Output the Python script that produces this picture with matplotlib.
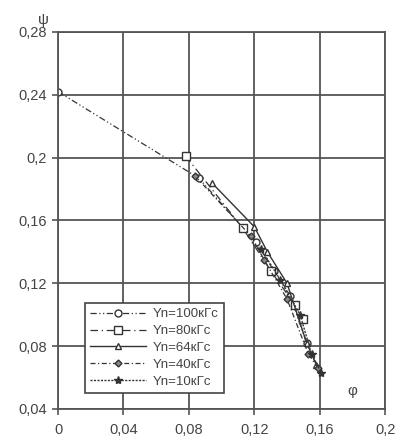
import matplotlib.pyplot as plt

plt.rcParams['font.family'] = ['Liberation Sans', 'DejaVu Sans']

# data
phi_100 = [0.0, 0.086, 0.121, 0.132, 0.142, 0.152]
psi_100 = [0.242, 0.187, 0.146, 0.128, 0.112, 0.082]

phi_80 = [0.078, 0.113, 0.130, 0.145, 0.150]
psi_80 = [0.201, 0.155, 0.128, 0.106, 0.097]

phi_64 = [0.094, 0.120, 0.128, 0.140, 0.152, 0.158]
psi_64 = [0.184, 0.156, 0.140, 0.120, 0.082, 0.068]

phi_40 = [0.084, 0.118, 0.126, 0.140, 0.153, 0.159]
psi_40 = [0.188, 0.150, 0.135, 0.110, 0.075, 0.066]

phi_10 = [0.124, 0.136, 0.148, 0.155, 0.161]
psi_10 = [0.142, 0.122, 0.100, 0.075, 0.063]

xticks = [0, 0.04, 0.08, 0.12, 0.16, 0.2]
xlabels = ['0', '0,04', '0,08', '0,12', '0,16', '0,2']
yticks = [0.04, 0.08, 0.12, 0.16, 0.2, 0.24, 0.28]
ylabels = ['0,04', '0,08', '0,12', '0,16', '0,2', '0,24', '0,28']

fig = plt.figure(figsize=(3.95, 4.44), dpi=100)
ax = fig.add_axes([0.147, 0.079, 0.828, 0.849])

lc = '#333333'
ax.plot(phi_100, psi_100, color=lc, lw=0.9, dashes=(5, 2, 1, 2, 1, 2),
        marker='o', ms=5, mfc='white', mec=lc, label='Yn=100кГс')
ax.plot(phi_80, psi_80, color=lc, lw=0.9, dashes=(6, 3, 1, 3),
        marker='s', ms=6, mfc='white', mec=lc, label='Yn=80кГс')
ax.plot(phi_64, psi_64, color=lc, lw=1.0, ls='-',
        marker='^', ms=5, mfc='white', mec=lc, label='Yn=64кГс')
ax.plot(phi_40, psi_40, color=lc, lw=0.9, dashes=(4, 2, 1, 2),
        marker='D', ms=3.5, mfc='#888888', mec=lc, label='Yn=40кГс')
ax.plot(phi_10, psi_10, color=lc, lw=1.0, dashes=(1.5, 1),
        marker='*', ms=6, mfc=lc, mec=lc, label='Yn=10кГс')

ax.set_xlim(0, 0.2)
ax.set_ylim(0.04, 0.28)
ax.set_xticks(xticks)
ax.set_xticklabels(xlabels)
ax.set_yticks(yticks)
ax.set_yticklabels(ylabels)
ax.grid(True, color='#555555', lw=1.3)
for s in ax.spines.values():
    s.set_color('#555555')
    s.set_linewidth(1.3)
ax.tick_params(colors='#555555', labelcolor='#444444', labelsize=10.5,
               length=4, width=1.2, pad=6)
ax.tick_params(axis='y', pad=4)

ax.text(-0.009, 0.283, 'ψ', fontsize=11, color='#444444', ha='center', va='bottom')
ax.text(0.18, 0.047, 'φ', fontsize=11, color='#444444', ha='center', va='bottom')

leg = ax.legend(loc='lower left', bbox_to_anchor=(0.083, 0.042), fontsize=9.5,
                frameon=True, fancybox=False, framealpha=1, edgecolor='#444444',
                handlelength=4.2, labelspacing=0.35, borderpad=0.4,
                handletextpad=0.5, borderaxespad=0)
leg.get_frame().set_linewidth(1.2)
for t in leg.get_texts():
    t.set_color('#444444')

fig.savefig('out.png', dpi=100)
